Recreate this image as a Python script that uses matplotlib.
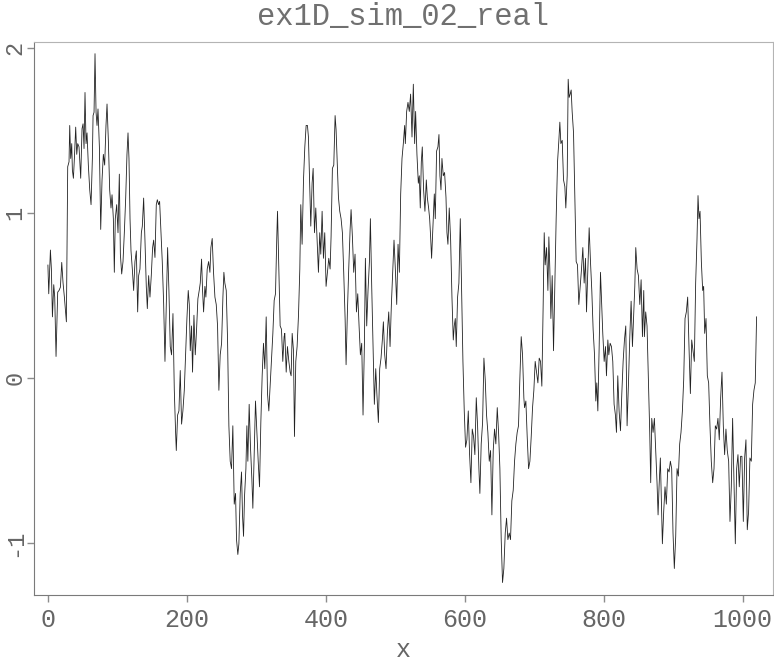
import matplotlib
matplotlib.use("Agg")
import matplotlib.pyplot as plt

# values (index, value)
title = "ex1D_sim_02_real"
xlabel = "x"
xticks = [0, 200, 400, 600, 800, 1000]
yticks = [-1, 0, 1, 2]

xs = [0, 1.2, 3.6, 5, 6.5, 8.4, 9.8, 11.7, 14.1, 16, 18, 19.9, 21.8, 23.7, 26.6, 28.5,
      30.4, 31.4, 32.8, 34.3, 35.2, 36.7, 38.1, 40, 41.5, 42.9, 44.8, 47.2, 49.1, 50.6,
      52, 53.4, 54.9, 56.3, 58.2, 60.2, 62.1, 64, 65, 66.4, 67.8, 69.3, 70.7, 72.1, 74.1,
      76, 77.9, 79.8, 81.7, 83.6, 85.1, 87, 88.9, 90.8, 92.3, 94.2, 95.6, 97, 99, 100.9,
      102.8, 104.3, 106.2, 108.1, 110, 112, 113.8, 115.3, 116.7, 118.2, 119.6, 121.5,
      123.4, 125.3, 127.3, 129.2, 130.6, 132.5, 134.5, 135.9, 137.8, 139.7, 141.6, 143.1,
      145, 146.9, 148.8, 150.7, 152.2, 154.1, 156, 157.5, 159.4, 160.8, 162.7, 164.6,
      166.6, 168.5,
      170.8, 172.3, 174.2, 176.1, 178, 180, 181.9, 183.8, 184.8, 186.7, 188.6, 190.5,
      192.4, 194.3, 196.3, 198.2, 200.1, 202, 203.5, 204.9, 206.8, 208.2, 210.2, 212.1,
      214, 215.9, 217.8, 219.3, 221.2, 222.6, 224.1, 226, 227.4, 229.3, 231.3, 233.2,
      234.6, 236.5, 238.4, 240.4, 242.3, 244.2, 246.1, 248, 250, 251.9, 253.3, 254.7,
      256.7, 258.6, 260.5, 262.4, 264.3, 266.2, 268.2, 270.1, 271.5, 273.4, 274.9, 276.8,
      278.7, 280.1, 281.6, 283, 285, 286.4, 287.8, 289.7, 291.6, 293.6, 295, 296.9, 298.8,
      300.8, 302.7, 304.6, 306.5, 308.4, 310.3, 312.2, 314.2, 316.1, 318, 319.9, 321.8,
      323.8, 325.7, 327.6, 329.5, 330.5, 332.4, 334.3, 336.2, 338.1, 340,
      341, 343, 344.8, 346.8, 348.7, 350.1, 351.6, 353.5, 354.9, 356.8, 358.7, 360.7,
      362.6, 364, 365.9, 367.9, 369.8, 371.7, 373.6, 375, 377, 378.4, 380.3, 381.8, 383.7,
      385.6, 387.5, 389.4, 391.3, 392.8, 394.7, 396.6, 398.5, 400.4, 402.4, 404.3, 406.2,
      407.6, 409.5, 411.5, 413.4, 414.8, 416.3, 418.2, 420.1, 422, 423.9, 425.8, 427.8,
      429.2, 431.1, 433, 435, 436.4, 438.3, 440.2, 442.1, 444.1, 446, 447.9, 449.8, 451.7,
      453.6, 455.6, 457, 458.9, 460.8, 462.8, 464.2, 466.1, 468, 469.9, 471.9, 473.8,
      475.7, 477.6, 479.5, 481.4, 482.9, 484.8, 486.7, 488.6, 490.6, 492.5, 494.4, 496.3,
      498.2, 500.1, 502.1, 504, 505.9, 507.8, 509.7, 511.6, 513.5,
      514.5, 516.4, 518.3, 520.2, 522.1, 524.1, 526, 527.9, 529.3, 531.2, 533.2, 534.6,
      536, 537.5, 538.9, 540.8, 542.7, 544.7, 546.1, 548, 549.5, 550.9, 552.3, 554.3,
      556.2, 557.6, 559.5, 561.4, 562.9, 564.3, 565.8, 567.2, 569.1, 571, 573, 574.4,
      575.8, 577.7, 579.7, 581.6, 583.5, 584.9, 586.4, 587.8, 589.7, 591.6, 593.6, 595.5,
      597.4, 599.3, 601.2, 603.1, 605.1, 607, 608.9, 610.8, 612.7, 614.6, 616.6, 618.5,
      620.4, 621.8, 623.7, 625.7, 627.6, 629.5, 631.4, 633.3, 635.3, 637.2, 639.1, 641,
      642.9, 644.8, 646.8, 648.7, 650.6, 652.5, 654.4, 656.3, 658.3, 660.2, 662.1, 664,
      665.9, 667.8, 669.8, 671.7, 673.6, 675.5, 677.4, 679.3, 681.3, 683.2, 685.1,
      686.1, 688, 689.9, 691.9, 693.8, 695.7, 697.6, 699.5, 701.4, 703.4, 705.3, 707.2,
      709.1, 711, 712.9, 714.4, 715.8, 717.8, 719.7, 721.1, 722.5, 724, 725.9, 727.8,
      729.7, 731.6, 733.6, 735.5, 736.9, 738.4, 740.3, 742.2, 744.1, 745.5, 747.5, 748.9,
      750.3, 751.8, 753.2, 754.6, 756.6, 758.5, 760.4, 762.3, 764.2, 766.2, 768.1, 770,
      771.9, 773.8, 775.3, 777.2, 779.1, 781, 782.9, 784.8, 786.8, 788.7, 790.1, 791.6,
      793.5, 795.4, 796.8, 798.7, 800.7, 802.6, 804, 806, 807.4, 809.3, 811.2, 813.1, 815,
      816.9, 818.4, 820.3, 822.2, 824.2, 826.1, 828, 829.9, 831.8, 833.7, 835.7, 837.6,
      839.5, 841.4, 843.3, 844.8, 846.2, 848.1, 850, 852, 853.9, 855.8, 857.7,
      858.6, 860.5, 862.4, 864.4, 866.3, 867.7, 869.2, 871.1, 873, 874.9, 876.8, 878.3,
      879.7, 881.6, 883.1, 884.5, 886.4, 888.3, 890.2, 892.2, 894.1, 896, 897.9, 899.8,
      901.7, 903.7, 905.6, 907.5, 909.4, 911.3, 913.3, 915.2, 917.1, 919, 920.9, 922.8,
      924.8, 926.7, 928.6, 930.5, 932.4, 934.3, 935.8, 937.2, 938.7, 940.6, 942.5, 943.9,
      945.4, 947.3, 949.2, 951.1, 953, 954.9, 956.9, 958.8, 960.7, 962.6, 964.5, 966.4,
      968.4, 970.3, 972.2, 974.1, 976, 977.9, 979.9, 981.8, 983.7, 985.6, 987.5, 989.5,
      991.4, 993.3, 995.2, 997.1, 999, 1001, 1002.9, 1004.8, 1006.7, 1008.6, 1010.5,
      1012.5, 1014.4, 1016.3, 1018.2, 1020.1]

ys = [0.684, 0.51, 0.775, 0.66, 0.37, 0.565, 0.49, 0.13, 0.52, 0.53, 0.55, 0.70, 0.575,
      0.49, 0.34, 1.28, 1.31, 1.53, 1.33, 1.42, 1.26, 1.21, 1.33, 1.52, 1.355, 1.42, 1.40,
      1.21, 1.51, 1.54, 1.39, 1.73, 1.42, 1.485, 1.29, 1.14, 1.05, 1.33, 1.59, 1.61, 1.965,
      1.61, 1.53, 1.63, 1.40, 0.90, 1.20, 1.355, 1.29, 1.53, 1.66, 1.44, 1.14, 1.03, 1.11,
      0.965, 0.64, 0.965, 1.05, 0.88, 1.235, 0.75, 0.63, 0.705, 0.88, 1.095, 1.355, 1.485,
      1.33, 0.965, 0.77, 0.66, 0.53, 0.705, 0.77, 0.40, 0.62, 0.66, 0.88, 0.92, 1.09,
      0.835, 0.555, 0.42, 0.62, 0.49, 0.62, 0.79, 0.835, 0.73, 1.05, 1.08, 1.05, 1.07,
      0.88, 0.705, 0.45, 0.10,
      0.53, 0.79, 0.53, 0.19, 0.14, 0.39, -0.07, -0.33, -0.44, -0.225, -0.20, 0.045,
      -0.28, -0.20, -0.075, 0.14, 0.36, 0.53, 0.445, 0.165, 0.315, 0.035, 0.38, 0.14,
      0.295, 0.48, 0.53, 0.575, 0.72, 0.53, 0.40, 0.555, 0.49, 0.66, 0.705, 0.64, 0.79,
      0.845, 0.64, 0.49, 0.445, 0.315, -0.075, 0.14, 0.21, 0.49, 0.64, 0.575, 0.53, 0.23,
      -0.29, -0.505, -0.55, -0.29, -0.765, -0.70, -0.98, -1.07, -1.005, -0.70, -0.57,
      -0.83, -0.96, -0.72, -0.55, -0.29, -0.505, -0.16, -0.42, -0.615, -0.79, -0.465,
      -0.14, -0.33, -0.505, -0.66, -0.27, 0.013, 0.21, 0.056, 0.37, -0.095, -0.20, -0.05,
      0.10, 0.27, 0.47, 0.51, 0.86, 1.01, 0.66, 0.315, 0.295, 0.10, 0.25,
      0.27, 0.035, 0.19, 0.10, 0.035, 0.013, 0.27, 0.165, -0.355, 0.10, 0.19, 0.38, 0.66,
      1.05, 0.81, 1.20, 1.40, 1.53, 1.53, 1.46, 1.14, 0.92, 1.18, 1.27, 0.88, 1.03, 0.835,
      0.64, 0.88, 0.75, 1.01, 0.725, 0.88, 0.555, 0.64, 0.725, 0.66, 0.855, 1.27, 1.29,
      1.59, 1.505, 1.33, 1.095, 1.01, 0.965, 0.88, 0.64, 0.36, 0.08, 0.40, 0.66, 0.90,
      1.02, 0.855, 0.64, 0.75, 0.40, 0.51, 0.315, 0.14, 0.21, -0.225, 0.21, 0.725, 0.315,
      0.53, 0.705, 0.965, 0.555, 0.21, -0.16, 0.056, -0.12, -0.27, 0.056, 0.12, 0.23,
      0.34, 0.14, 0.056, 0.27, 0.40, 0.19, 0.445, 0.64, 0.835, 0.66, 0.445, 0.81, 0.64,
      1.115, 1.33, 1.42, 1.53,
      1.42, 1.615, 1.67, 1.615, 1.72, 1.46, 1.78, 1.42, 1.615, 1.355, 1.18, 1.225, 1.03,
      1.31, 1.40, 1.14, 1.01, 1.20, 1.095, 1.03, 0.965, 0.855, 0.725, 0.92, 1.115, 0.965,
      1.375, 1.40, 1.475, 1.225, 1.14, 1.33, 1.225, 1.245, 1.095, 0.88, 0.81, 1.03,
      0.835, 0.49, 0.23, 0.315, 0.36, 0.19, 0.49, 0.575, 0.965, 0.53, 0.10, -0.20, -0.42,
      -0.375, -0.20, -0.465, -0.635, -0.31, -0.355, -0.465, -0.12, -0.29, -0.55, -0.70,
      -0.40, -0.27, 0.12, -0.01, -0.225, -0.33, -0.505, -0.44, -0.83, -0.44, -0.31, -0.40,
      -0.18, -0.33, -0.55, -0.98, -1.24, -1.155, -0.94, -0.85, -0.98, -0.94, -0.98,
      -0.745, -0.68, -0.505, -0.40, -0.33, -0.29, -0.01, 0.25, 0.14, -0.12,
      -0.18, -0.14, -0.355, -0.55, -0.505, -0.355, -0.18, -0.075, 0.10, 0.035, -0.03,
      0.12, 0.10, -0.05, 0.445, 0.88, 0.685, 0.79, 0.53, 0.855, 0.66, 0.36, 0.62, 0.165,
      0.555, 0.965, 1.31, 1.44, 1.55, 1.42, 1.44, 1.20, 1.16, 1.03, 1.225, 1.81, 1.70,
      1.72, 1.745, 1.615, 1.485, 1.095, 0.705, 0.685, 0.445, 0.555, 0.66, 0.79, 0.575,
      0.725, 0.40, 0.66, 0.91, 0.705, 0.53, 0.295, 0.14, -0.14, -0.03, -0.20, 0.19, 0.64,
      0.49, 0.27, 0.10, 0.19, 0.013, 0.23, 0.14, 0.21, 0.19, 0.10, -0.16, -0.225, -0.33,
      0.013, -0.20, -0.32, -0.095, 0.10, 0.23, 0.315, -0.29, -0.03, 0.25, 0.465, 0.19,
      0.40, 0.555, 0.79, 0.66, 0.62, 0.445, 0.595, 0.25, 0.53,
      0.25, 0.40, 0.315, -0.01, -0.33, -0.635, -0.245, -0.33, -0.245, -0.44, -0.635,
      -0.83, -0.66, -0.485, -0.765, -1.005, -0.81, -0.66, -0.765, -0.55, -0.57, -0.505,
      -0.55, -0.94, -1.155, -0.96, -0.55, -0.595, -0.40, -0.33, -0.20, -0.01, 0.36, 0.40,
      0.49, 0.19, -0.095, 0.23, 0.165, 0.10, 0.575, 0.835, 1.105, 0.965, 1.01, 0.705,
      0.53, 0.555, 0.27, 0.36, 0.013, -0.03, -0.29, -0.505, -0.635, -0.55, -0.29, -0.31,
      -0.245, -0.375, -0.12, 0.035, -0.29, -0.465, -0.31, -0.44, -0.505, -0.87, -0.66,
      -0.245, -0.615, -1.005, -0.55, -0.465, -0.66, -0.475, -0.475, -0.87, -0.485,
      -0.375, -0.92, -0.81, -0.485, -0.505, -0.16, -0.075, -0.03, 0.37]

grey_text = "#666666"
grey_line = "#8c8c8c"
font = ["Liberation Mono", "DejaVu Sans Mono"]

fig = plt.figure(figsize=(7.74, 6.61), dpi=100)
ax = fig.add_axes([0.0435, 0.1, 0.955, 0.8365])

ax.plot(xs, ys, color="#222222", linewidth=0.6)

ax.set_xlim(-20.5, 1043.5)
ax.set_ylim(-1.315, 2.036)
ax.set_xticks(xticks)
ax.set_yticks(yticks)
ax.set_xticklabels([str(t) for t in xticks], family=font, fontsize=18, color=grey_text)
ax.set_yticklabels([str(t) for t in yticks], family=font, fontsize=17, color=grey_text,
                   rotation=90, va="center", ha="center")
# lengths and pads are in points (1 pt = 1.39 px here)
ax.tick_params(direction="out", length=5, width=1, color=grey_line)
ax.tick_params(axis="x", pad=4.5)
ax.tick_params(axis="y", pad=8.5)

for side in ["top", "right"]:
    ax.spines[side].set_color("#b4b4b4")
for side in ["left", "bottom"]:
    ax.spines[side].set_color("#7a7a7a")

ax.set_title(title, family=font, fontsize=22, color="#707070", pad=12)
ax.set_xlabel(xlabel, family=font, fontsize=18, color=grey_text, labelpad=4)

fig.savefig("out.png", dpi=100)
